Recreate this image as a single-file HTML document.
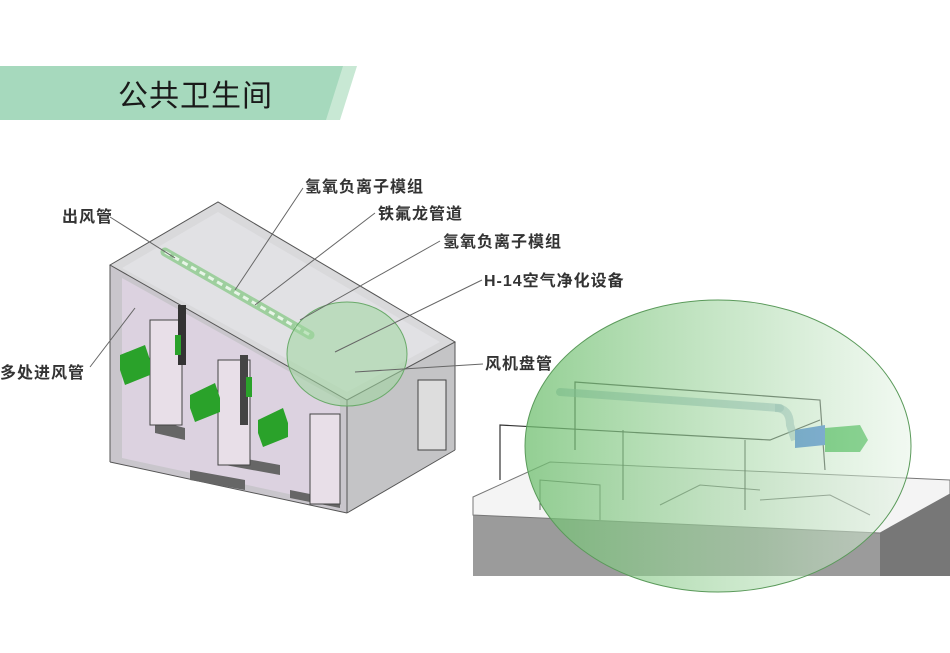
<!DOCTYPE html>
<html><head><meta charset="utf-8"><style>
html,body{margin:0;padding:0;background:#fff;width:950px;height:653px;overflow:hidden}
text{font-family:"Liberation Sans","Noto Sans CJK SC",sans-serif;fill:#333;font-weight:bold}
</style></head><body>
<svg width="950" height="653" viewBox="0 0 950 653" xmlns="http://www.w3.org/2000/svg">
<defs>
<linearGradient id="cg" x1="0" y1="0" x2="1" y2="0">
<stop offset="0" stop-color="#6fbf6f" stop-opacity="0.75"/>
<stop offset="0.6" stop-color="#a8d8a8" stop-opacity="0.55"/>
<stop offset="1" stop-color="#e4f3e4" stop-opacity="0.5"/>
</linearGradient>
</defs>
<!-- banner -->
<polygon points="0,66 357,66 340,120 0,120" fill="#c8e8d4"/>
<polygon points="0,66 343,66 326,120 0,120" fill="#a6d9bd"/>
<text x="118" y="106" font-size="30" style="font-weight:normal;fill:#1a1a1a" letter-spacing="1">公共卫生间</text>

<!-- left building -->
<polygon points="110,265 347,400 347,513 110,462" fill="#c9c6cc"/>
<polygon points="347,400 455,342 455,450 347,513" fill="#c4c4c6"/>
<polygon points="122,278 340,400 340,505 122,458" fill="#dcd2e0"/>
<polygon points="110,265 218,202 455,342 347,400" fill="#d0d0d2" fill-opacity="0.8" stroke="#555" stroke-width="1"/>
<polygon points="122,268 218,212 440,342 347,392" fill="#e2e2e6" fill-opacity="0.8"/>
<line x1="110" y1="265" x2="110" y2="462" stroke="#555"/>
<line x1="347" y1="400" x2="347" y2="513" stroke="#555"/>
<line x1="455" y1="342" x2="455" y2="450" stroke="#555"/>
<line x1="110" y1="462" x2="347" y2="513" stroke="#555"/>
<line x1="347" y1="513" x2="455" y2="450" stroke="#555"/>
<polygon points="155,420 185,428 185,440 155,433" fill="#666"/>
<polygon points="190,470 245,480 245,490 190,480" fill="#666"/>
<polygon points="225,455 280,465 280,475 225,465" fill="#666"/>
<polygon points="290,490 340,500 340,508 290,498" fill="#666"/>
<rect x="150" y="320" width="32" height="105" fill="#e8dfe8" stroke="#444"/>
<rect x="218" y="360" width="32" height="105" fill="#e8dfe8" stroke="#444"/>
<rect x="310" y="414" width="30" height="90" fill="#e8dfe8" stroke="#444"/>
<rect x="418" y="380" width="28" height="70" fill="#ddd" stroke="#444"/>
<rect x="178" y="305" width="8" height="60" fill="#333"/>
<rect x="240" y="355" width="8" height="70" fill="#444"/>
<polygon points="120,355 145,345 150,360 150,375 125,385 120,370" fill="#2aa22a"/>
<polygon points="190,395 215,383 220,398 220,412 195,422 190,408" fill="#2aa22a"/>
<polygon points="258,420 283,408 288,423 288,437 263,447 258,433" fill="#2aa22a"/>
<rect x="175" y="335" width="6" height="20" fill="#2aa22a"/>
<rect x="246" y="377" width="6" height="20" fill="#2aa22a"/>
<line x1="165" y1="252" x2="310" y2="335" stroke="#9ecf9e" stroke-width="9" stroke-linecap="round"/>
<line x1="165" y1="252" x2="310" y2="335" stroke="#e8f5e8" stroke-width="3" stroke-dasharray="6 4"/>
<ellipse cx="347" cy="354" rx="60" ry="52" fill="#9fd79f" fill-opacity="0.55" stroke="#6aaa6a"/>

<!-- right circle scene -->
<rect x="473" y="500" width="477" height="76" fill="#9b9b9b"/>
<polygon points="473,497 550,462 950,480 950,494 880,533 473,515" fill="#f4f4f4" stroke="#777"/>
<polygon points="880,533 950,494 950,576 880,576" fill="#777"/>
<g stroke="#666" fill="none">
<polyline points="540,510 540,480 600,485 600,520"/>
<polyline points="660,505 700,485 760,490"/>
<polyline points="760,500 830,495 870,515"/>
</g>
<polyline points="500,480 500,425 770,440 820,420" fill="none" stroke="#333" stroke-width="1.2"/>
<polyline points="575,450 575,382 820,400 825,470" fill="none" stroke="#333" stroke-width="1.2"/>
<line x1="623" y1="430" x2="623" y2="500" stroke="#333"/>
<line x1="745" y1="440" x2="745" y2="510" stroke="#333"/>
<line x1="560" y1="392" x2="780" y2="408" stroke="#8ab" stroke-width="8" stroke-linecap="round" opacity="0.6"/>
<path d="M775 408 Q790 408 790 425 L795 440" stroke="#8ab" stroke-width="8" fill="none" opacity="0.6"/>
<polygon points="795,430 825,425 825,445 795,448" fill="#2f6fd8"/>
<polygon points="825,428 860,425 868,440 860,452 825,452" fill="#39b54a"/>
<ellipse cx="718" cy="446" rx="193" ry="146" fill="url(#cg)" stroke="#5a9a5a"/>

<g stroke="#666" stroke-width="1" fill="none">
<line x1="110" y1="217" x2="175" y2="258"/>
<line x1="303" y1="188" x2="235" y2="290"/>
<line x1="375" y1="213" x2="255" y2="305"/>
<line x1="440" y1="241" x2="300" y2="320"/>
<line x1="482" y1="280" x2="335" y2="352"/>
<line x1="483" y1="364" x2="355" y2="372"/>
<line x1="90" y1="367" x2="135" y2="308"/>
</g>

<g font-size="16" letter-spacing="1">
<text x="305" y="192">氢氧负离子模组</text>
<text x="378" y="219">铁氟龙管道</text>
<text x="443" y="247">氢氧负离子模组</text>
<text x="484" y="286">H-14空气净化设备</text>
<text x="485" y="369">风机盘管</text>
<text x="62" y="222">出风管</text>
<text x="0" y="378">多处进风管</text>
</g>
</svg>
</body></html>
